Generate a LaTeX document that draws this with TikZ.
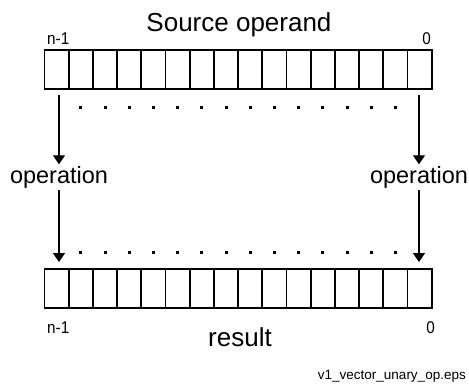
\documentclass[tikz,border=0pt]{standalone}
\usepackage{fontspec}
\setmainfont{Liberation Sans}
\usetikzlibrary{arrows.meta,positioning}

\begin{document}
\begin{tikzpicture}[
  x=1pt, y=-1pt,
  cell/.style={draw, line width=1.9pt, minimum width=24.2pt, minimum height=39pt, inner sep=0pt},
  pt/.style={fill, rectangle, inner sep=0pt, minimum size=3pt},
  arr/.style={-{Triangle[length=9pt, width=12pt]}, line width=1.2pt},
  big/.style={font=\fontsize{26}{30}\selectfont, inner sep=0pt},
  oplbl/.style={font=\fontsize{23.5}{28}\selectfont, inner sep=1.5pt},
  idx/.style={font=\fontsize{17}{20}\selectfont, inner sep=0pt, xscale=0.9},
  fname/.style={font=\fontsize{13.5}{15}\selectfont, inner sep=0pt}]
  \useasboundingbox (0,0) rectangle (469,384);
  % source and result registers, bit 0 on the right
  \foreach \i in {0,...,15} {
    \node[cell] (src\i) at ({419.6-24.2*\i}, 69.5) {};
    \node[cell] (res\i) at ({419.6-24.2*\i}, 288.5) {};
  }
  \foreach \i in {1,...,14} {
    \node[pt, below=16pt of src\i] (dt\i) {};
    \node[pt, above=14pt of res\i] (db\i) {};
  }
  \node[big, anchor=base] (srcname) at (239, 31) {Source operand};
  \node[big, anchor=base] (resname) at (240, 346) {result};
  \node[idx, anchor=base west] (tn) at ([xshift=3.5pt, yshift=5pt]src15.north west) {n-1};
  \node[idx, anchor=base east] (tz) at ([xshift=-1.5pt, yshift=5pt]src0.north east) {0};
  \node[idx, anchor=base west] (bn) at ([xshift=3.5pt, yshift=-25pt]res15.south west) {n-1};
  \node[idx, anchor=base east] (bz) at ([xshift=2.3pt, yshift=-25pt]res0.south east) {0};
  \node[oplbl, anchor=base] (opl) at (59, 183) {operation};
  \node[oplbl, anchor=base] (opr) at (419, 183) {operation};
  \draw[arr, shorten <=5pt] (opl.north |- src15.south) -- (opl.north);
  \draw[arr, shorten >=6pt] (opl.south) -- (opl.south |- res15.north);
  \draw[arr, shorten <=5pt] (opr.north |- src0.south) -- (opr.north);
  \draw[arr, shorten >=6pt] (opr.south) -- (opr.south |- res0.north);
  \node[fname, anchor=base east] (file) at (466, 379) {v1\_vector\_unary\_op.eps};
\end{tikzpicture}
\end{document}
